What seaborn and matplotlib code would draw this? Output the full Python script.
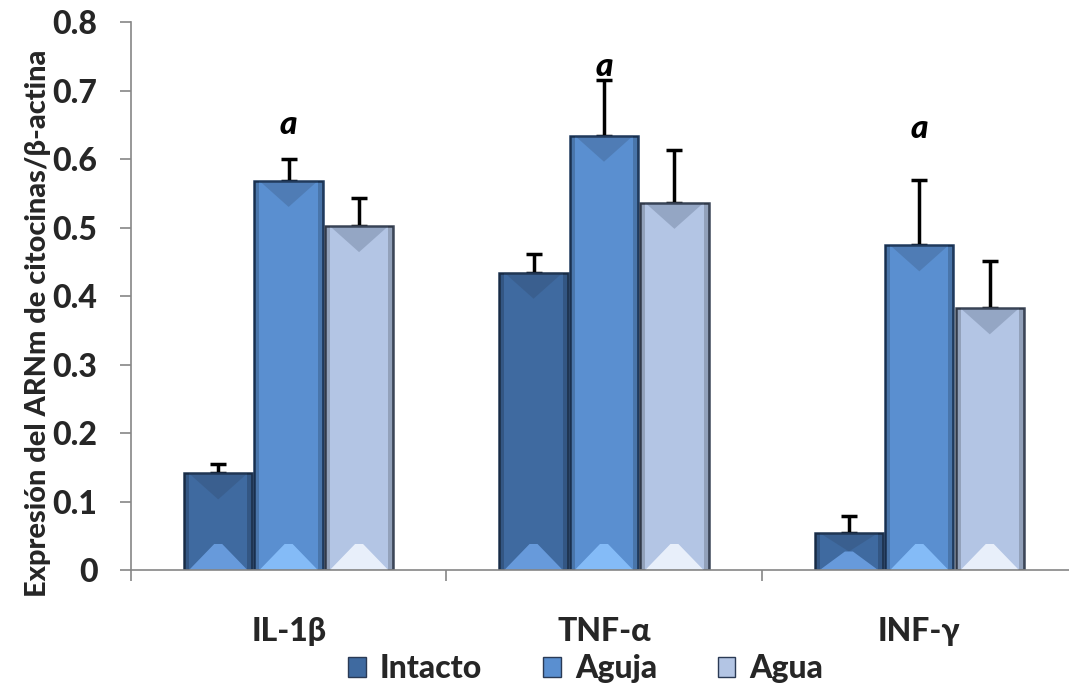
import numpy as np
import pandas as pd
import matplotlib
matplotlib.use("Agg")
import matplotlib.pyplot as plt
from matplotlib.patches import Polygon
import seaborn as sns

categories = ["IL-1β", "TNF-α", "INF-γ"]
groups = ["Intacto", "Aguja", "Agua"]
intacto = [0.141, 0.434, 0.054]
aguja = [0.568, 0.634, 0.474]
agua = [0.502, 0.536, 0.382]
intacto_err = [0.014, 0.027, 0.025]
aguja_err = [0.032, 0.081, 0.095]
agua_err = [0.041, 0.077, 0.069]
sig_labels = ["a", "a", "a"]
sig_y = [0.65, 0.735, 0.645]
yticks = [0, 0.1, 0.2, 0.3, 0.4, 0.5, 0.6, 0.7, 0.8]
ytick_labels = ["0", "0.1", "0.2", "0.3", "0.4", "0.5", "0.6", "0.7", "0.8"]

colors = ["#3f6aa0", "#5a8fd0", "#b3c5e4"]
edges = ["#1f3553", "#1f3a5e", "#3c4658"]
lights = ["#6fa3e6", "#8cc4ff", "#f2f7ff"]

df = pd.DataFrame({
    "cat": categories * 3,
    "grp": sum([[g] * 3 for g in groups], []),
    "val": intacto + aguja + agua,
    "err": intacto_err + aguja_err + agua_err,
})

sns.set_theme(style="white")
plt.rcParams["font.family"] = ["Lato", "DejaVu Sans"]
W = 900

fig = plt.figure(figsize=(10.69, 6.88), dpi=100)
ax = fig.add_axes([0.1225, 0.1715, 0.885, 0.7965])

sns.barplot(data=df, x="cat", y="val", hue="grp", order=categories,
            hue_order=groups, palette=colors, width=0.67, gap=0.03,
            errorbar=None, ax=ax, legend=True, saturation=1)

ax.set_xlim(-0.5, 2.5)
ax.set_ylim(0, 0.8)

px_x = 3.0 / (0.885 * 1069)
px_y = 0.8 / (0.7965 * 688)

for gi, g in enumerate(groups):
    cont = ax.containers[gi]
    sub = df[df.grp == g].set_index("cat").loc[categories]
    xs = []
    for p in cont.patches:
        p.set_edgecolor(edges[gi])
        p.set_linewidth(1.8)
        p.set_zorder(2)
        x0 = p.get_x(); w = p.get_width(); x1 = x0 + w
        y0 = p.get_y(); h = p.get_height(); y1 = y0 + h
        cx = x0 + w / 2
        xs.append(cx)
        b = 5 * px_x
        for sx in (x0, x1 - b):
            ax.add_patch(plt.Rectangle((sx, y0), b, h, color="black",
                                       alpha=0.18, lw=0, zorder=2.1))
        d = min(26 * px_y, h / 2)
        ax.add_patch(Polygon([(x0 + b, y1), (x1 - b, y1), (cx, y1 - d)],
                             closed=True, color="#2a3a55", alpha=0.22,
                             lw=0, zorder=2.2))
        ax.add_patch(Polygon([(x0 + b, y0), (x1 - b, y0),
                              (cx + 4 * px_x, y0 + d), (cx - 4 * px_x, y0 + d)],
                             closed=True, color=lights[gi], alpha=0.85,
                             lw=0, zorder=2.2))
    vals = sub["val"].values
    errs = sub["err"].values
    ax.errorbar(xs, vals, yerr=np.vstack([np.zeros_like(errs), errs]),
                fmt="none", ecolor="black", elinewidth=2.5, capsize=6,
                capthick=2.5, zorder=1)
    if g == "Aguja":
        for x, lab, yy in zip(xs, sig_labels, sig_y):
            ax.text(x, yy, lab, ha="center", va="center", fontsize=24,
                    fontweight=W, fontstyle="italic", color="black")

ax.set_yticks(yticks)
ax.set_yticklabels(ytick_labels, fontsize=23, fontweight=W)
ax.set_xticks(range(3))
ax.set_xticklabels(categories, fontsize=23, fontweight=W)
ax.set_xticks([-0.5, 0.5, 1.5, 2.5], minor=True)
ax.tick_params(axis="x", which="major", length=0, pad=34)
ax.tick_params(axis="x", which="minor", length=8, width=1.2, color="#868686",
               direction="out", bottom=True)
ax.tick_params(axis="y", length=8, width=1.2, color="#868686",
               direction="out", left=True, pad=16)
ax.set_xlabel("")
ax.set_ylabel("Expresión del ARNm de citocinas/β-actina", fontsize=20.8,
              fontweight=W)
ax.yaxis.set_label_coords(-0.085, 0.45)
for s in ["top", "right"]:
    ax.spines[s].set_visible(False)
for s in ["left", "bottom"]:
    ax.spines[s].set_color("#868686")
    ax.spines[s].set_linewidth(1.2)

handles, labels = ax.get_legend_handles_labels()
ax.legend_.remove()
for h in handles:
    h.set_edgecolor("#2a3a55")
    h.set_linewidth(1.0)
fig.legend(handles, labels, loc="lower center", bbox_to_anchor=(0.548, -0.035),
           ncol=3, frameon=False, prop={"size": 23, "weight": W},
           handlelength=0.55, handleheight=0.55, columnspacing=1.9,
           handletextpad=0.45)

fig.savefig("out.png", dpi=100)
